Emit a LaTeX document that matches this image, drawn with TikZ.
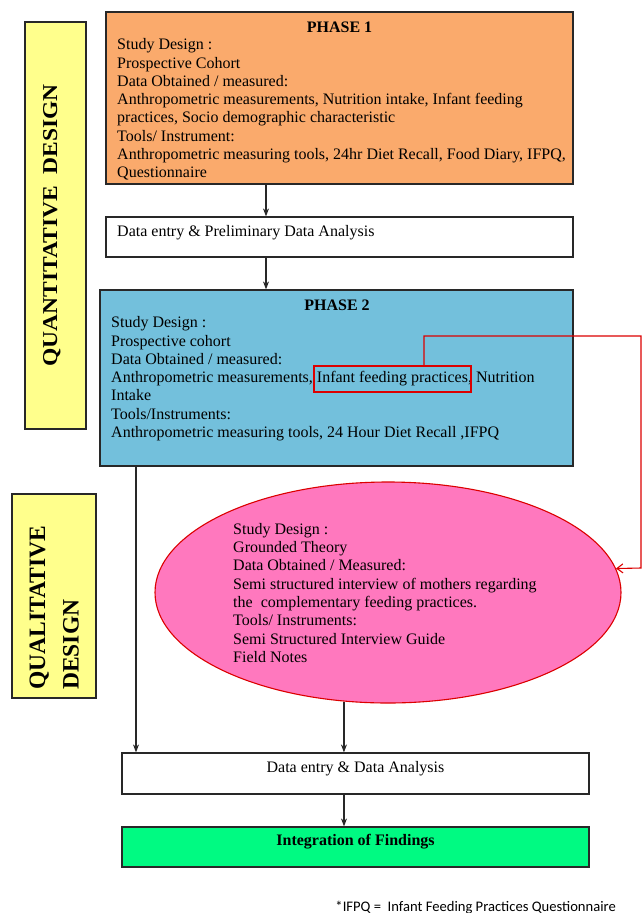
\documentclass[tikz,border=0pt]{standalone}
\usepackage{fontspec}
\usepackage{graphicx}
\setmainfont{Liberation Serif}
\newfontfamily\bodyf{Liberation Serif}
\newfontfamily\footf{Carlito}
\usetikzlibrary{arrows.meta,shapes.geometric}
\definecolor{cOrange}{RGB}{250,170,108}
\definecolor{cBlue}{RGB}{115,192,220}
\definecolor{cPink}{RGB}{255,120,190}
\definecolor{cYellow}{RGB}{255,255,140}
\definecolor{cGreen}{RGB}{0,250,130}
\definecolor{cRed}{RGB}{220,0,0}
\definecolor{cLine}{RGB}{40,40,40}
\newcommand{\fstrut}{\rule{0pt}{12pt}}
\begin{document}
\begin{tikzpicture}[x=1pt,y=-1pt,
  box/.style={draw=cLine, line width=1.2pt, rectangle, inner sep=0pt},
  txt/.style={inner sep=0pt, align=left, anchor=north west, font=\bodyf\fontsize{16}{18.3}\selectfont},
  ctxt/.style={inner sep=0pt, align=center, anchor=base, font=\bodyf\fontsize{16}{18.3}\selectfont},
  btxt/.style={ctxt, font=\bodyf\bfseries\fontsize{16}{18.3}\selectfont},
  side/.style={inner sep=0pt, rotate=90, align=left, font=\bfseries\fontsize{23.5}{33.5}\selectfont},
  arr/.style={draw=cLine, line width=1.1pt, -{Stealth[length=8pt,width=6pt]}},
  redc/.style={draw=cRed, line width=1.1pt}
]
\useasboundingbox (0,0) rectangle (643,913);
\fill[white] (0,0) rectangle (643,913);

% side labels
\node[box, fill=cYellow, minimum width=61pt, minimum height=407pt] (qn) at (55.5,225.5) {};
\node[side, anchor=base] (qnt) at (57,225.5) {\scalebox{1}[0.9]{QUANTITATIVE\ \ DESIGN}};
\node[box, fill=cYellow, minimum width=84pt, minimum height=204pt] (ql) at (54,596) {};
\node[side, anchor=base west] (qlt) at (78.5,690) {QUALITATIVE\\DESIGN};

% phase 1
\node[box, fill=cOrange, minimum width=467pt, minimum height=172pt] (p1) at (339.5,98) {};
\node[btxt] (p1h) at (339.5,32) {PHASE 1};
\node[txt] (p1t) at (117,37.5) {\fstrut Study Design :\\
Prospective Cohort\\
Data Obtained / measured:\\
Anthropometric measurements, Nutrition intake, Infant feeding\\
practices, Socio demographic characteristic\\
Tools/ Instrument:\\
Anthropometric measuring tools, 24hr Diet Recall, Food Diary, IFPQ,\\
Questionnaire};

% data entry 1
\node[box, fill=white, minimum width=467pt, minimum height=40pt] (de1) at (339.5,237) {};
\node[txt] (de1t) at (117,224.5) {\fstrut Data entry \& Preliminary Data Analysis};

% phase 2
\node[box, fill=cBlue, minimum width=473pt, minimum height=176pt] (p2) at (336.5,378) {};
\node[btxt] (p2h) at (337,310) {PHASE 2};
\node[txt] (p2t) at (111,315.5) {\fstrut Study Design :\\
Prospective cohort\\
Data Obtained / measured:\\
Anthropometric measurements, Infant feeding practices, Nutrition\\
Intake\\
Tools/Instruments:\\
Anthropometric measuring tools, 24 Hour Diet Recall ,IFPQ};
\node[draw=cRed, line width=1.1pt, inner sep=0pt, minimum width=157pt, minimum height=26pt] (hl) at (392.5,379) {};

% ellipse
\node[ellipse, draw=cRed, line width=1.1pt, fill=cPink, inner sep=0pt, minimum width=466pt, minimum height=221pt] (ell) at (388,592.5) {};
\node[txt] (ellt) at (233,522) {\fstrut Study Design :\\
Grounded Theory\\
Data Obtained / Measured:\\
Semi structured interview of mothers regarding\\
the\ \ complementary feeding practices.\\
Tools/ Instruments:\\
Semi Structured Interview Guide\\
Field Notes};

% data entry 2 and integration
\node[box, fill=white, minimum width=467pt, minimum height=41pt] (de2) at (355.5,773.5) {};
\node[ctxt] (de2t) at (355.5,772.5) {Data entry \& Data Analysis};
\node[box, fill=cGreen, minimum width=467pt, minimum height=40pt] (ig) at (355.5,847) {};
\node[btxt] (igt) at (355.5,845.5) {Integration of Findings};

% footnote
\node[inner sep=0pt, anchor=base east, font=\footf\fontsize{14.6}{17}\selectfont] (fn) at (616,911) {*IFPQ =\ \ Infant Feeding Practices Questionnaire};

% connectors
\coordinate (xa) at (266,0);
\coordinate (xb) at (136,0);
\coordinate (xc) at (344,0);
\draw[arr] (p1.south -| xa) -- (de1.north -| xa);
\draw[arr] (de1.south -| xa) -- (p2.north -| xa);
\draw[arr] (p2.south -| xb) -- (de2.north -| xb);
\draw[arr] (ell.-112) -- (ell.-112 |- de2.north);
\draw[arr] (de2.south -| xc) -- (ig.north -| xc);

% red connector
\coordinate (rt) at (641,336);
\coordinate (rb) at (641,568);
\draw[redc, -{Straight Barb[length=6pt,width=9pt]}] ([xshift=31.5pt]hl.north) |- (rt) -- (rb) -- (ell.6.2);
\end{tikzpicture}
\end{document}
